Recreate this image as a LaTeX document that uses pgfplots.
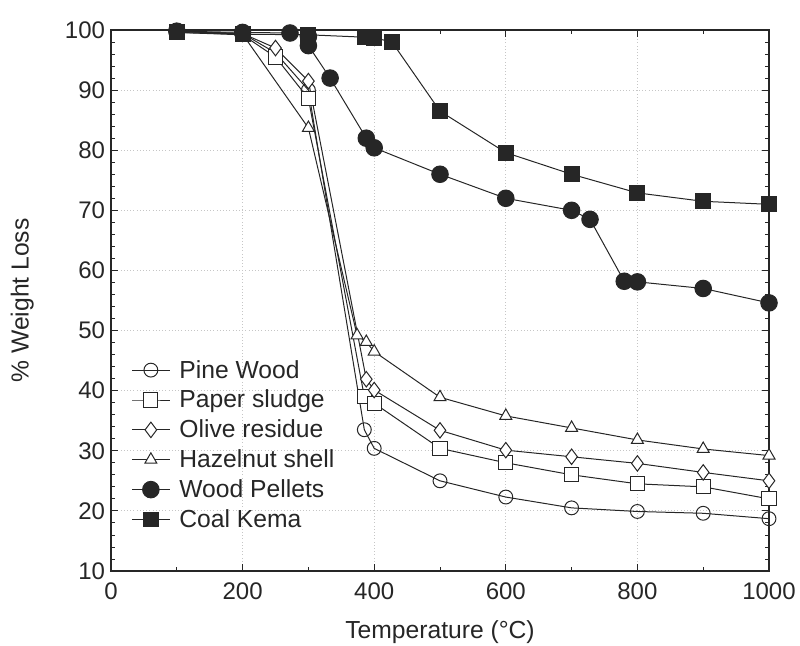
\documentclass[border=0pt]{standalone}
\usepackage{pgfplots}
\pgfplotsset{compat=1.18}
\usepackage{fontspec}
\setmainfont{Liberation Sans}
\definecolor{ink}{gray}{0.15}
\begin{document}
\begin{tikzpicture}
\begin{axis}[
  name=ax,
  scale only axis,
  width=493.5pt, height=405.75pt,
  xmin=0, xmax=1000, ymin=10, ymax=100,
  xtick={0,200,...,1000}, ytick={10,20,...,100},
  minor x tick num=1, minor y tick num=4,
  tick align=inside,
  major tick length=5pt, minor tick length=3pt,
  every tick/.style={ink, line width=0.6pt},
  axis line style={ink, line width=1.1pt},
  grid=major,
  major grid style={gray!45, dotted, line width=0.6pt},
  tick label style={font=\fontsize{18}{21}\selectfont, text=ink},
  xticklabel style={yshift=-5pt},
  yticklabel style={xshift=-1pt},
  /pgf/number format/assume math mode=true,
  /pgf/number format/1000 sep={},
  xlabel={Temperature (°C)},
  ylabel={\% Weight Loss},
  label style={font=\fontsize{18.5}{22}\selectfont, text=ink},
  xlabel style={at={(axis description cs:0.5,-0.113)}, anchor=center},
  ylabel style={at={(axis description cs:-0.135,0.5)}, anchor=center},
  legend style={at={(0.025,0.40)}, anchor=north west, draw=none, fill=none,
    font=\fontsize{18.5}{22}\selectfont, text=ink, row sep=3.5pt,
    /tikz/every odd column/.append style={column sep=5pt}},
  legend cell align=left,
  legend image code/.code={
    \draw[mark repeat=2, mark phase=2] plot coordinates {(0pt,0pt) (14pt,0pt) (28pt,0pt)};
  },
  every axis plot/.append style={ink, line width=0.75pt},
]
% Pine Wood
\addplot[mark=o, mark size=5.2pt, mark options={fill=white}] coordinates {
  (100,99.8) (200,99.4) (250,96.2) (300,90.0) (385,33.5) (400,30.4)
  (500,25.0) (600,22.3) (700,20.5) (800,19.9) (900,19.6) (1000,18.7)};
\addlegendentry{Pine Wood}
% Paper sludge
\addplot[mark=square*, mark size=5.3pt, mark options={fill=white}] coordinates {
  (100,99.6) (200,99.2) (250,95.5) (300,88.6) (385,39.0) (400,37.9)
  (500,30.4) (600,28.0) (700,26.0) (800,24.5) (900,24.0) (1000,22.0)};
\addlegendentry{Paper sludge}
% Olive residue
\addplot[mark=diamond*, mark size=5.8pt, mark options={fill=white}] coordinates {
  (100,99.8) (200,99.4) (250,97.0) (300,91.5) (388,41.9) (400,40.1)
  (500,33.4) (600,30.1) (700,29.0) (800,27.9) (900,26.4) (1000,25.0)};
\addlegendentry{Olive residue}
% Hazelnut shell
\addplot[mark=triangle*, mark size=5.2pt, mark options={fill=white}] coordinates {
  (100,99.8) (200,99.3) (300,83.7) (374,49.2) (388,48.1) (400,46.5)
  (500,38.9) (600,35.8) (700,33.8) (800,31.8) (900,30.3) (1000,29.2)};
\addlegendentry{Hazelnut shell}
% Wood Pellets
\addplot[mark=*, mark size=6.2pt, mark options={fill=ink}] coordinates {
  (100,99.8) (200,99.6) (272,99.5) (300,98.9) (300,97.4) (333,92.0)
  (388,82.0) (400,80.4) (500,76.0) (600,72.0) (700,70.0) (728,68.5)
  (780,58.2) (800,58.1) (900,57.0) (1000,54.6)};
\addlegendentry{Wood Pellets}
% Coal Kema
\addplot[mark=square*, mark size=5.6pt, mark options={fill=ink}] coordinates {
  (100,99.6) (200,99.3) (300,99.2) (386,98.8) (400,98.7) (427,98.0)
  (500,86.5) (600,79.6) (700,76.0) (800,72.9) (900,71.5) (1000,71.0)};
\addlegendentry{Coal Kema}
\end{axis}
\pgfresetboundingbox
\path[use as bounding box] ([xshift=-83.25pt, yshift=-56.25pt]ax.south west)
  rectangle ([xshift=23.25pt, yshift=22.5pt]ax.north east);
\end{tikzpicture}
\end{document}
